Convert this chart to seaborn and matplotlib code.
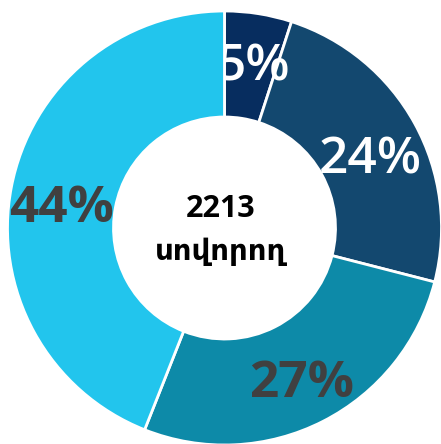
import matplotlib
matplotlib.use("Agg")
import matplotlib.pyplot as plt
import seaborn as sns

sns.set_theme(style="white")

shares = [5, 24, 27, 44]
labels = ["5%", "24%", "27%", "44%"]
colors = ["#072d5f", "#13486f", "#0d8aa8", "#22c5ed"]
label_colors = ["white", "white", "#404040", "#404040"]
label_weights = ["semibold", "semibold", "bold", "bold"]
center_total = "2213"
center_unit = "սովորող"

W, H = 441, 444
fig = plt.figure(figsize=(W / 100, H / 100), dpi=100)
ax = fig.add_axes([0, 0, 1, 1])

cx, cy, R, r = 224.5, H - 228, 217, 111
wedges, _ = ax.pie(shares, colors=colors, startangle=90, counterclock=False,
                   center=(cx, cy), radius=R, frame=True,
                   wedgeprops=dict(width=R - r, edgecolor="white", linewidth=2.0))
ax.set_xlim(0, W)
ax.set_ylim(0, H)
ax.set_aspect("equal")
ax.axis("off")

pos = [(253, H - 80), (370, H - 173), (302, H - 397), (62, H - 222)]
for i, (lab, (x, y)) in enumerate(zip(labels, pos)):
    ax.text(x, y, lab, ha="center", va="baseline", fontsize=37,
            color=label_colors[i], fontweight=label_weights[i],
            family=["Open Sans", "DejaVu Sans"], zorder=2 if i == 0 else 5)
wedges[3].set_zorder(3)

ax.text(cx - 4, H - 217, center_total, ha="center", va="baseline", fontsize=22,
        fontweight="bold", color="black", family=["Open Sans", "DejaVu Sans"], zorder=6)
ax.text(cx - 4, H - 260, center_unit, ha="center", va="baseline", fontsize=21,
        fontweight="bold", color="black", family=["DejaVu Sans"], zorder=6)

fig.savefig("out.png", dpi=100)
